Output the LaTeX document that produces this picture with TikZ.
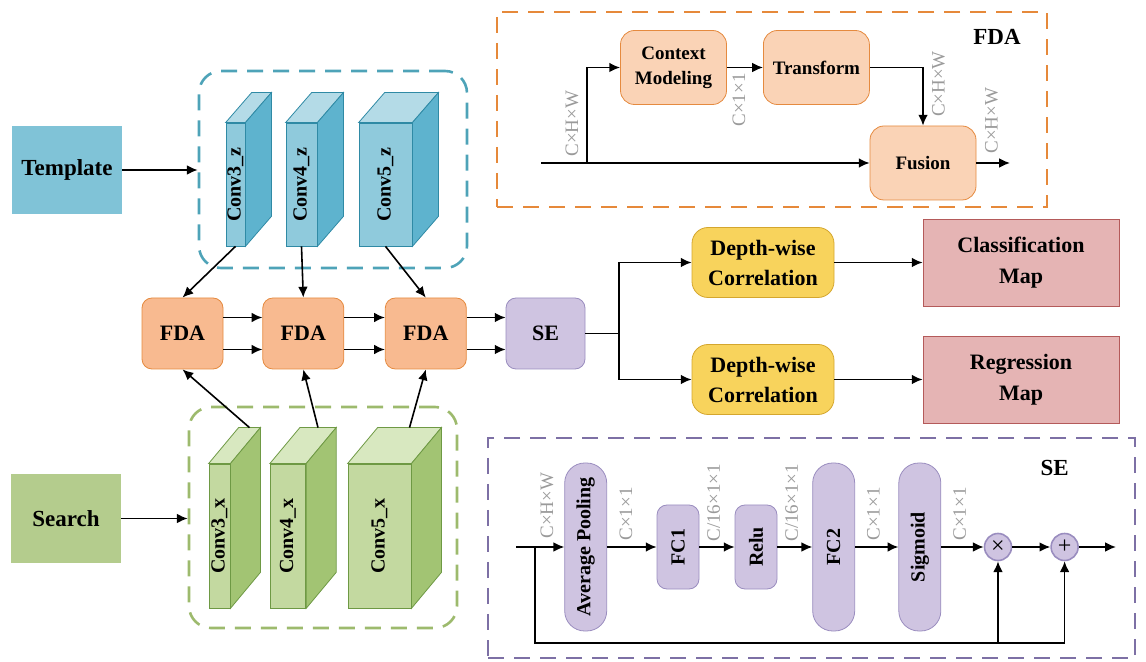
\documentclass[tikz,border=0pt]{standalone}
\usepackage{fontspec}
\setmainfont{Liberation Serif}
\usepackage{graphicx}
\usetikzlibrary{arrows.meta, calc}
\definecolor{azulPlantilla}{HTML}{80C3D7}
\definecolor{azulFrente}{HTML}{8FCADC}
\definecolor{azulLado}{HTML}{5EB3CE}
\definecolor{azulTapa}{HTML}{B4DBE7}
\definecolor{azulBorde}{HTML}{2F8AA5}
\definecolor{azulMarco}{HTML}{4EA3B8}
\definecolor{verdeBusqueda}{HTML}{B4CC8D}
\definecolor{verdeFrente}{HTML}{C3D9A0}
\definecolor{verdeLado}{HTML}{A2C473}
\definecolor{verdeTapa}{HTML}{D8E8C0}
\definecolor{verdeBorde}{HTML}{6E9944}
\definecolor{verdeMarco}{HTML}{9DBA6D}
\definecolor{rellenoFDA}{HTML}{F8BA90}
\definecolor{rellenoInt}{HTML}{FAD3B6}
\definecolor{bordeFDA}{HTML}{E58A3F}
\definecolor{naranjaMarco}{HTML}{E6893A}
\definecolor{rellenoSE}{HTML}{CFC4E1}
\definecolor{bordeSE}{HTML}{9A8DBF}
\definecolor{moradoMarco}{HTML}{7D70A5}
\definecolor{rellenoCorr}{HTML}{F8D35C}
\definecolor{bordeCorr}{HTML}{D4A62E}
\definecolor{rellenoMapa}{HTML}{E5B4B4}
\definecolor{bordeMapa}{HTML}{B45A5A}
\definecolor{grisDim}{HTML}{9A9A9A}
\tikzset{
  cajaBase/.style={
    draw, rounded corners=5pt, align=center, inner sep=1pt,
    font=\bfseries\fontsize{11}{13}\selectfont, text=black
  },
  cajaEntrada/.style={minimum width=55pt, minimum height=44pt,
    font=\bfseries\fontsize{11.5}{13}\selectfont},
  cajaFDA/.style={cajaBase, draw=bordeFDA, fill=rellenoFDA,
    minimum width=40.5pt, minimum height=35.5pt},
  cajaSE/.style={cajaBase, draw=bordeSE, fill=rellenoSE,
    minimum width=39.5pt, minimum height=35.5pt},
  cajaInterna/.style={cajaBase, draw=bordeFDA, fill=rellenoInt, rounded corners=7pt,
    minimum width=53pt, minimum height=37pt, font=\bfseries\fontsize{9.5}{12.5}\selectfont},
  cajaCorr/.style={cajaBase, draw=bordeCorr, fill=rellenoCorr, rounded corners=8pt,
    minimum width=71pt, minimum height=35pt, font=\bfseries\fontsize{11}{15}\selectfont},
  cajaMapa/.style={cajaBase, sharp corners, draw=bordeMapa, fill=rellenoMapa,
    minimum width=98pt, minimum height=43.5pt, font=\bfseries\fontsize{11}{15.5}\selectfont},
  pildora/.style={cajaBase, draw=bordeSE, fill=rellenoSE, rounded corners=10pt,
    minimum width=21pt, minimum height=84pt, font=\bfseries\fontsize{10}{12}\selectfont},
  bloqueSE/.style={pildora, rounded corners=5pt, minimum height=42pt},
  operador/.style={circle, draw=bordeSE, fill=rellenoSE, thick,
    minimum size=13.5pt, inner sep=0pt, font=\fontsize{12}{12}\selectfont},
  caraAzul/.style={draw=azulBorde, fill=azulFrente, inner sep=0pt,
    minimum height=61.5pt, font=\bfseries\fontsize{10}{12}\selectfont},
  caraVerde/.style={draw=verdeBorde, fill=verdeFrente, inner sep=0pt,
    minimum height=72pt, font=\bfseries\fontsize{10}{12}\selectfont},
  marco/.style={line width=1.3pt, dash pattern=on 8pt off 5pt},
  flecha/.style={-{Latex[length=1.9mm, width=1.7mm]}, line width=0.8pt, black},
  linea/.style={line width=0.8pt, black},
  etiquetaDim/.style={rotate=90, text=grisDim, inner sep=1pt,
    font=\fontsize{9.5}{10}\selectfont},
  titulo/.style={font=\bfseries\fontsize{11.5}{13}\selectfont},
}

\begin{document}
\begin{tikzpicture}[x=0.5pt, y=-0.5pt]
  \useasboundingbox (0,0) rectangle (1146,662);

  % marcos punteados
  \node[marco, draw=azulMarco, rounded corners=11pt, minimum width=134pt, minimum height=98.5pt] (marcoZ) at (333,169.5) {};
  \node[marco, draw=verdeMarco, rounded corners=11pt, minimum width=134pt, minimum height=110.5pt] (marcoX) at (323,517.5) {};
  \node[marco, draw=naranjaMarco, minimum width=275pt, minimum height=97.5pt] (marcoFDA) at (772,109.5) {};
  \node[marco, draw=moradoMarco, minimum width=323.5pt, minimum height=110pt] (marcoSE) at (811.5,548) {};

  % entradas
  \node[cajaEntrada, fill=azulPlantilla] (tmpl) at (67,170) {Template};
  \node[cajaEntrada, fill=verdeBusqueda] (srch) at (66,518.5) {Search};
  \draw[flecha] (tmpl) -- (tmpl -| marcoZ.west);
  \draw[flecha] (srch) -- (srch -| marcoX.west);

  % bloques de convolucion (plantilla)
  \foreach \nom/\cx/\w/\txt in {c3z/235.5/9.5pt/Conv3\_z, c4z/301.5/15.5pt/Conv4\_z, c5z/385.5/26.5pt/Conv5\_z} {
    \node[caraAzul, minimum width=\w] (\nom) at (\cx,184.5) {\rotatebox{90}{\txt}};
    \draw[draw=azulBorde, fill=azulTapa] (\nom.north west) -- ++(26,-30)
      -- ([shift={(26,-30)}]\nom.north east) -- (\nom.north east) -- cycle;
    \draw[draw=azulBorde, fill=azulLado] (\nom.north east) -- ++(26,-30)
      -- ([shift={(26,-30)}]\nom.south east) -- (\nom.south east) -- cycle;
  }

  % bloques de convolucion (busqueda)
  \foreach \nom/\cx/\w/\txt in {c3x/219.5/10.5pt/Conv3\_x, c4x/288/17.75pt/Conv4\_x, c5x/379.5/31.5pt/Conv5\_x} {
    \node[caraVerde, minimum width=\w] (\nom) at (\cx,536) {\rotatebox{90}{\txt}};
    \draw[draw=verdeBorde, fill=verdeTapa] (\nom.north west) -- ++(30,-36)
      -- ([shift={(30,-36)}]\nom.north east) -- (\nom.north east) -- cycle;
    \draw[draw=verdeBorde, fill=verdeLado] (\nom.north east) -- ++(30,-36)
      -- ([shift={(30,-36)}]\nom.south east) -- (\nom.south east) -- cycle;
    \coordinate (tope\nom) at ($(\nom.north)+(30,-36)$);
  }

  % cadena FDA + SE
  \node[cajaFDA] (fda1) at (182.5,333.5) {FDA};
  \node[cajaFDA] (fda2) at (303.3,333.5) {FDA};
  \node[cajaFDA] (fda3) at (425.8,333.5) {FDA};
  \node[cajaSE] (se) at (545.5,333.5) {SE};
  \foreach \a/\b in {fda1/fda2, fda2/fda3, fda3/se} {
    \draw[flecha] ([yshift=8pt]\a.east) -- ([yshift=8pt]\b.west);
    \draw[flecha] ([yshift=-8pt]\a.east) -- ([yshift=-8pt]\b.west);
  }
  \draw[flecha] (c3z.south) -- (fda1.north);
  \draw[flecha] (c4z.south) -- (fda2.north);
  \draw[flecha] (c5z.south) -- (fda3.north);
  \draw[flecha] (topec3x) -- (fda1.south);
  \draw[flecha] (topec4x) -- (fda2.south);
  \draw[flecha] (topec5x) -- (fda3.south);

  % cabezas de correlacion
  \node[cajaCorr] (dw1) at (763,262.5) {Depth-wise\\Correlation};
  \node[cajaCorr] (dw2) at (763,379.5) {Depth-wise\\Correlation};
  \node[cajaMapa] (cls) at (1021,262.5) {Classification\\Map};
  \node[cajaMapa] (reg) at (1021,379.5) {Regression\\Map};
  \coordinate (ramCls) at (619,333.5);
  \draw[linea] (se) -- (ramCls);
  \draw[flecha] (ramCls) |- (dw1);
  \draw[flecha] (ramCls) |- (dw2);
  \draw[flecha] (dw1) -- (cls);
  \draw[flecha] (dw2) -- (reg);

  % detalle del modulo FDA
  \node[titulo] (tituloFDA) at (997,37) {FDA};
  \node[cajaInterna] (ctx) at (673.5,67.5) {Context\\Modeling};
  \node[cajaInterna] (tra) at (816.4,67.5) {Transform};
  \node[cajaInterna] (fus) at (923,163) {Fusion};
  \coordinate (entFDA) at (541,163);
  \coordinate (ramFDA) at (587,163);
  \coordinate (salFDA) at (1010,163);
  \draw[flecha] (entFDA) -- (fus.west);
  \draw[flecha] (ramFDA) |- (ctx.west);
  \draw[flecha] (ctx) -- (tra);
  \draw[flecha] (tra.east) -| (fus.north);
  \draw[flecha] (fus) -- (salFDA);
  \node[etiquetaDim, anchor=west] (dimA) at (572,159) {C×H×W};
  \node[etiquetaDim, anchor=east] (dimB) at (739,71) {C×1×1};
  \node[etiquetaDim] (dimC) at (938.5,84) {C×H×W};
  \node[etiquetaDim, anchor=west] (dimD) at (991.5,156) {C×H×W};

  % detalle del modulo SE
  \node[titulo] (tituloSE) at (1054.7,467.7) {SE};
  \node[pildora] (avg) at (585.7,547) {\rotatebox{90}{Average Pooling}};
  \node[bloqueSE] (fc1) at (678,547) {\rotatebox{90}{FC1}};
  \node[bloqueSE] (relu) at (756,547) {\rotatebox{90}{Relu}};
  \node[pildora] (fc2) at (833.7,547) {\rotatebox{90}{FC2}};
  \node[pildora] (sig) at (919.8,547) {\rotatebox{90}{Sigmoid}};
  \node[operador] (mul) at (998,547) {×};
  \node[operador] (suma) at (1064.6,547) {+};
  \coordinate (entSE) at (516,547);
  \coordinate (ramSE) at (535,547);
  \coordinate (retSE) at (535,643);
  \coordinate (salSE) at (1116,547);
  \draw[flecha] (entSE) -- (avg);
  \foreach \a/\b in {avg/fc1, fc1/relu, relu/fc2, fc2/sig, sig/mul, mul/suma}
    \draw[flecha] (\a) -- (\b);
  \draw[flecha] (suma) -- (salSE);
  \draw[flecha] (ramSE) -- (retSE) -| (mul.south);
  \draw[flecha] (retSE -| mul) -| (suma.south);
  \node[etiquetaDim, anchor=west] (dimE) at (547,541) {C×H×W};
  \node[etiquetaDim, anchor=west] (dimF) at (626,543) {C×1×1};
  \node[etiquetaDim, anchor=west] (dimG) at (713.7,544) {C/16×1×1};
  \node[etiquetaDim, anchor=west] (dimH) at (791.6,544) {C/16×1×1};
  \node[etiquetaDim, anchor=west] (dimI) at (873.4,543) {C×1×1};
  \node[etiquetaDim, anchor=west] (dimJ) at (959.7,543) {C×1×1};
\end{tikzpicture}
\end{document}
